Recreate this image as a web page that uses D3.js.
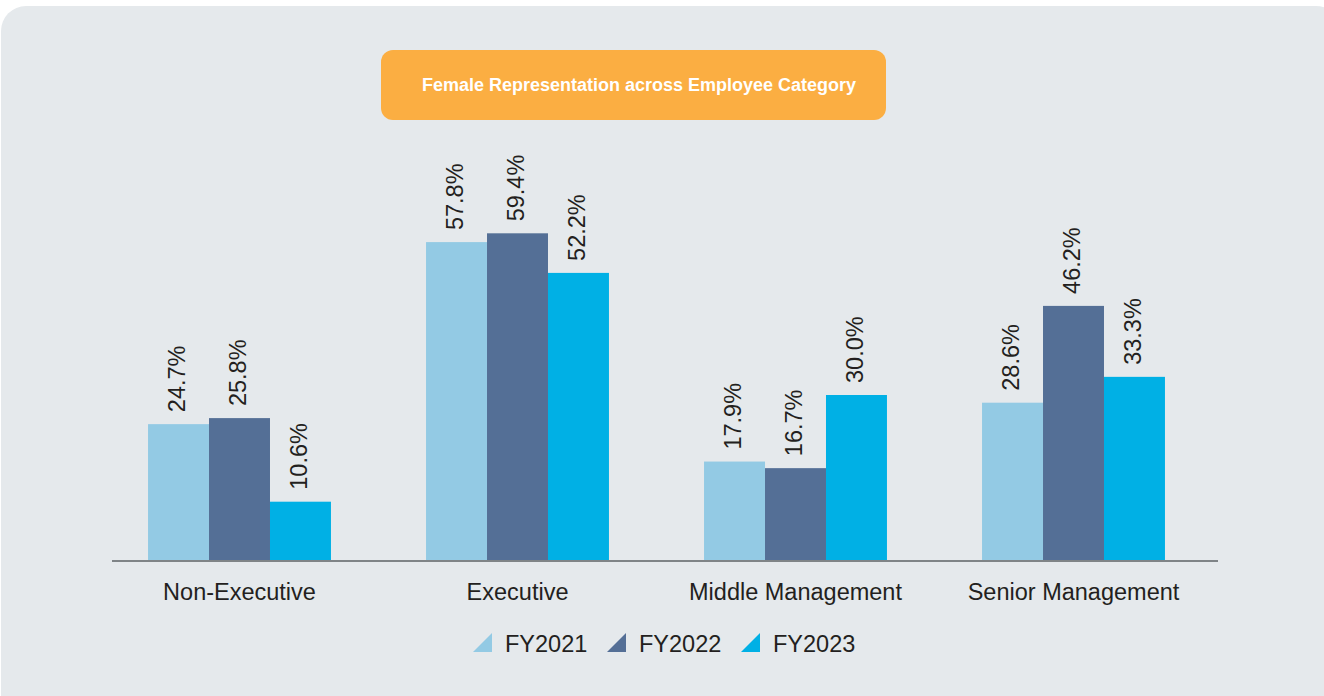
<!DOCTYPE html>
<html>
<head>
<meta charset="utf-8">
<script src="https://cdn.jsdelivr.net/npm/d3@7"></script>
<style>
  body { margin: 0; background: #ffffff; }
  svg { display: block; font-family: Arial, "Liberation Sans", sans-serif; }
</style>
</head>
<body>
<div id="container"></div>
<script>
/** DATA */
const categories = ["Non-Executive", "Executive", "Middle Management", "Senior Management"];
const years = ["FY2021", "FY2022", "FY2023"];
const fy2021 = [24.7, 57.8, 17.9, 28.6];
const fy2022 = [25.8, 59.4, 16.7, 46.2];
const fy2023 = [10.6, 52.2, 30.0, 33.3];
const seriesValues = [fy2021, fy2022, fy2023];
const colors = ["#93cae4", "#546f96", "#00b0e5"];
const title = "Female Representation across Employee Category";

/** CONSTANTS */
const width = 1324, height = 696;
const baseY = 560;
const textColor = "#231f20";

const svg = d3.select("#container")
  .append("svg")
  .attr("width", width)
  .attr("height", height);

// panel background
svg.append("rect")
  .attr("x", 1)
  .attr("y", 6)
  .attr("width", 1340)
  .attr("height", 720)
  .attr("rx", 25)
  .attr("fill", "#e5e9ec");

// title box
svg.append("rect")
  .attr("x", 381)
  .attr("y", 50)
  .attr("width", 505)
  .attr("height", 70)
  .attr("rx", 12)
  .attr("fill", "#fbae42");

svg.append("text")
  .attr("x", 639)
  .attr("y", 91)
  .attr("text-anchor", "middle")
  .attr("fill", "#ffffff")
  .style("font-size", "18px")
  .style("font-weight", "bold")
  .text(title);

/** SCALES */
const x0 = d3.scaleBand()
  .domain(categories)
  .range([100.5, 1212.5])
  .paddingInner(0.342)
  .paddingOuter(0.171);

const x1 = d3.scaleBand()
  .domain(years)
  .range([0, x0.bandwidth()]);

const y = d3.scaleLinear()
  .domain([0, 100])
  .range([baseY, baseY - 550]);

const color = d3.scaleOrdinal().domain(years).range(colors);

const rows = categories.map((c, i) => ({
  category: c,
  values: years.map((yr, j) => ({ year: yr, value: seriesValues[j][i] }))
}));

/** BARS */
const groups = svg.selectAll(".group")
  .data(rows)
  .join("g")
  .attr("class", "group")
  .attr("transform", d => `translate(${x0(d.category)},0)`);

groups.selectAll("rect")
  .data(d => d.values)
  .join("rect")
  .attr("x", d => x1(d.year))
  .attr("y", d => y(d.value))
  .attr("width", x1.bandwidth())
  .attr("height", d => y(0) - y(d.value))
  .attr("fill", d => color(d.year));

groups.selectAll(".label")
  .data(d => d.values)
  .join("text")
  .attr("class", "label")
  .attr("transform", d => `translate(${x1(d.year) + x1.bandwidth() / 2 - 2},${y(d.value) - 12}) rotate(-90)`)
  .attr("dy", "0.35em")
  .attr("text-anchor", "start")
  .attr("fill", textColor)
  .style("font-size", "23.5px")
  .text(d => d.value.toFixed(1) + "%");

/** AXIS */
const xAxis = svg.append("g")
  .attr("transform", `translate(0,${baseY + 1})`)
  .call(d3.axisBottom(x0).tickSize(0).tickPadding(22));

xAxis.select(".domain").remove();
xAxis.selectAll("text")
  .attr("fill", textColor)
  .style("font-size", "23.5px")
  .style("font-family", "Arial, 'Liberation Sans', sans-serif");

svg.append("line")
  .attr("x1", 112)
  .attr("x2", 1218)
  .attr("y1", baseY + 1)
  .attr("y2", baseY + 1)
  .attr("stroke", "#7f8487")
  .attr("stroke-width", 2);

/** LEGEND */
const legendX = d3.scalePoint()
  .domain(years)
  .range([473, 741]);

const legend = svg.selectAll(".legend")
  .data(years)
  .join("g")
  .attr("class", "legend")
  .attr("transform", d => `translate(${legendX(d)},633)`);

legend.append("path")
  .attr("d", "M0,19L19,19L19,0Z")
  .attr("fill", d => color(d));

legend.append("text")
  .attr("x", 32)
  .attr("y", 19)
  .attr("fill", textColor)
  .style("font-size", "23.5px")
  .text(d => d);
</script>
</body>
</html>
